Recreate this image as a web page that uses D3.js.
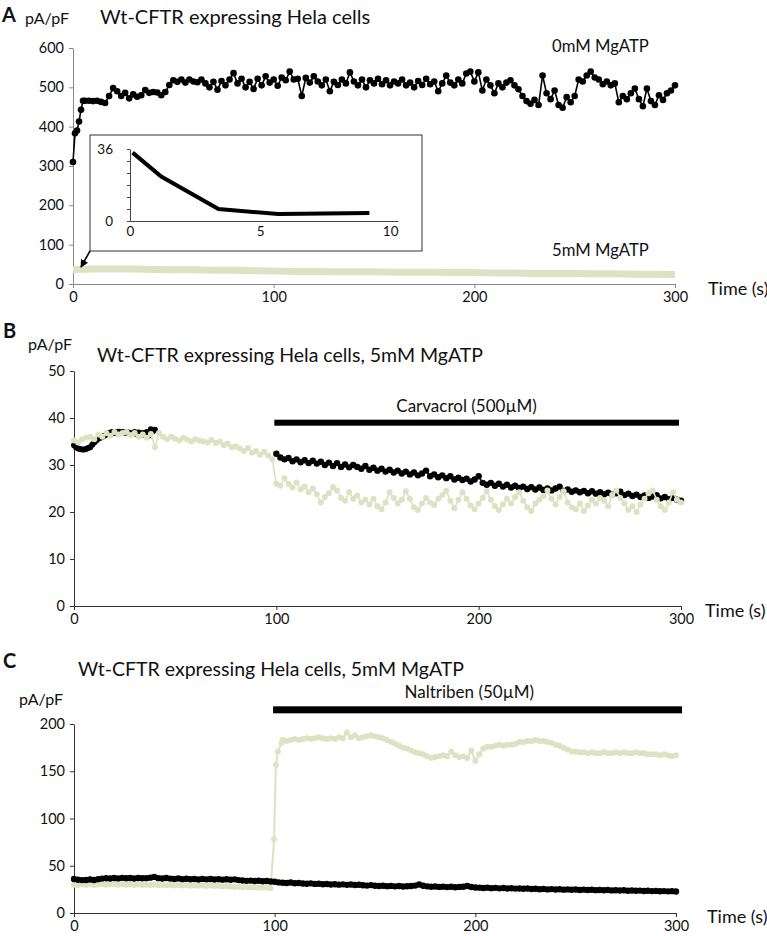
<!DOCTYPE html>
<html><head><meta charset="utf-8">
<script src="https://cdn.jsdelivr.net/npm/d3@7"></script>
<style>body{margin:0;background:#fff}svg{display:block}text{font-family:Lato,'Open Sans',sans-serif}</style>
</head><body><svg id="c" width="767" height="936"></svg>
<script>
// ---------- DATA ----------
const xTicks = [0, 100, 200, 300];
const yTicksA = [0, 100, 200, 300, 400, 500, 600];
const yTicksB = [0, 10, 20, 30, 40, 50];
const yTicksC = [0, 50, 100, 150, 200];

// Panel A, 0mM MgATP (black)
const aBlackStartT = [0, 1, 2, 3, 4, 5];
const aBlackStartV = [310, 383, 390, 413, 443, 466];
const aBlackV = [ // t = 6 .. 300, every 2 s
466,466,465,466,463,460,478,498,490,478,486,472,482,476,480,493,486,488,487,480,
488,506,518,514,520,512,520,515,513,520,510,500,514,494,516,505,520,536,510,522,
500,514,496,522,505,528,512,520,504,525,518,540,520,522,478,524,512,528,515,505,
520,490,514,506,520,510,538,515,505,520,500,518,510,522,508,518,505,515,510,520,
505,512,500,516,506,522,508,515,490,510,530,512,505,520,510,535,540,515,538,492,
520,505,485,510,500,512,518,505,495,478,465,458,468,455,530,485,470,492,455,448,
475,462,478,520,515,530,540,525,520,508,515,505,510,462,478,470,485,497,470,452,
497,465,455,480,468,485,492,505];
// Panel A, 5mM MgATP (light), t = 0 .. 300 every 10 s
const aLightV = [37,38,38,38,37,36,36,35,35,34,33,32,32,31,31,31,30,30,30,29,29,28,28,27,27,27,26,26,25,25,24];
// Inset
const insetT = [0.1, 1.2, 3.4, 5.7, 9.2];
const insetV = [34.2, 22.2, 6, 3.5, 4];

// Panel B
const bBlack1V = [ // t = 0 .. 40 every 1 s
34.2,33.8,33.5,33.4,33.3,33.3,33.4,33.6,33.8,34.3,34.8,35.2,35.6,35.8,36.0,36.2,36.5,36.8,36.9,37.0,
36.8,37.0,37.1,36.9,37.0,36.8,37.0,36.9,36.7,36.8,37.0,36.6,36.9,36.5,36.8,36.4,37.0,36.3,37.6,37.2,37.5];
const bBlack2V = [ // t = 100 .. 300 every 2 s
32.4,31.6,31.2,31.5,30.8,31.2,30.6,31.0,30.4,30.9,30.3,30.7,30.0,30.5,29.8,30.4,29.6,30.1,29.5,30.0,
29.6,29.2,29.8,29.0,29.4,28.8,29.2,28.6,29.0,28.4,28.8,28.2,28.6,28.0,28.4,27.8,28.2,28.8,27.6,28.0,
27.4,27.8,27.2,27.6,26.9,27.3,26.8,27.1,26.5,26.9,27.6,26.2,25.8,26.2,25.6,26.0,25.4,25.8,25.2,25.6,
25.1,25.4,24.9,25.3,24.8,25.2,24.7,25.0,24.6,25.0,25.4,24.5,24.8,24.3,24.6,24.2,24.5,24.0,24.4,23.9,
24.2,23.8,24.1,23.7,24.0,24.3,23.6,23.9,23.4,23.7,23.2,23.5,23.0,23.3,23.6,22.9,23.2,22.7,23.0,22.6,22.4];
const bLight1V = [ // t = 0 .. 98 every 2 s
35.2,34.8,35.5,35.8,36.0,35.5,36.5,36.0,36.8,36.2,37.0,36.5,36.8,37.0,36.4,36.8,36.0,36.5,35.8,36.6,
33.8,36.8,36.0,35.5,36.0,35.6,35.2,35.8,35.4,35.0,35.5,35.2,35.0,34.8,35.3,34.7,35.0,34.2,34.6,33.8,
34.0,33.5,33.0,33.6,32.6,33.0,32.2,32.8,32.0,31.2];
const bLight2V = [ // t = 100 .. 300 every 2 s
26.0,25.6,27.2,26.0,25.2,26.3,24.8,25.4,24.2,25.0,23.8,22.0,23.2,24.0,25.3,24.6,23.0,22.4,24.2,22.8,
23.5,22.0,22.6,21.6,22.8,21.2,20.6,22.0,24.2,23.0,21.8,22.6,24.4,22.8,21.0,20.4,21.8,23.0,22.0,21.5,
22.8,23.6,24.5,22.4,20.8,22.6,24.2,22.8,21.4,20.6,21.8,23.0,24.4,22.6,21.2,20.4,21.6,22.8,21.8,23.2,
24.2,22.4,21.0,20.2,21.8,22.6,23.4,24.6,22.8,21.6,23.2,24.4,22.0,21.0,20.6,21.8,20.2,21.4,22.6,21.8,
23.0,22.4,21.2,23.6,24.6,23.0,21.8,20.4,21.2,20.0,21.6,22.8,24.0,24.6,22.6,21.2,20.4,22.0,24.2,22.6,22.0];
const bTreat = [99, 299], bTreatLevel = 39;

// Panel C
const cBlackV = [ // t = 0 .. 300 every 2 s
36.0,35.2,34.8,35.0,35.4,35.0,35.8,36.4,36.8,36.5,37.0,36.6,37.2,36.8,37.0,36.5,37.1,36.7,36.9,37.4,
38.2,36.9,36.5,37.0,36.4,36.0,36.6,35.8,36.2,35.7,36.0,35.5,36.1,35.6,35.9,35.4,35.8,35.3,35.7,35.2,
35.6,34.8,34.4,34.0,34.3,33.8,34.1,33.6,33.9,33.4,33.0,32.4,32.0,31.8,32.2,31.5,31.8,31.2,31.0,31.4,
30.8,31.0,30.4,30.7,30.2,30.5,30.0,30.3,29.8,30.1,29.6,29.9,29.4,29.0,29.5,28.8,28.6,28.9,28.4,28.7,
28.2,28.5,28.0,28.3,28.6,29.0,30.2,28.8,28.2,27.8,28.0,27.6,27.9,27.4,27.7,27.3,27.6,27.8,28.6,27.5,
27.0,26.8,26.5,26.8,26.3,26.6,26.1,26.4,25.9,26.2,25.8,26.0,25.6,25.9,25.4,25.7,25.2,25.5,25.0,25.3,
24.9,25.2,24.7,25.0,24.6,24.8,24.4,24.7,24.3,24.6,24.2,24.4,24.0,24.3,23.9,24.1,23.8,24.0,23.6,23.8,
23.5,23.7,23.3,23.5,23.2,23.4,23.0,23.2,22.9,23.1,22.8];
const cLight1V = [ // t = 0 .. 98 every 2 s
30.0,29.5,30.2,29.8,30.4,29.6,30.1,30.5,29.8,30.3,30.6,30.0,30.4,29.9,30.2,29.7,30.1,29.6,30.0,29.5,
29.9,29.4,29.8,29.3,29.6,29.2,29.5,29.0,29.4,28.9,29.2,28.8,29.1,28.6,29.0,28.5,28.8,28.4,28.6,28.0,
27.6,27.9,27.3,27.6,27.0,27.3,26.8,27.1,26.6,26.4];
const cJumpT = [99.7, 100.6, 101.6, 103.5];
const cJumpV = [78, 157, 171, 180];
const cLight2V = [ // t = 104 .. 300 every 2 s
183,182,183,184,183,184,185,184,185,186,185,184,185,184,186,185,191,186,188,185,
186,187,188,187,186,185,183,181,179,177,175,174,172,170,169,168,166,164,165,166,
167,166,171,167,165,166,164,172,161,168,174,176,176,177,178,177,178,178,179,181,
181,182,182,183,182,182,181,180,178,177,175,173,171,171,170,170,169,170,169,169,
170,169,169,170,169,170,169,169,170,169,169,168,168,168,167,168,167,166,167];
const cTreat = [99.2, 303], cTreatLevel = 215;

// ---------- HELPERS ----------
const BLACK = '#000', LIGHT = '#dde2c3';
const seg = (t0, step, vals) => vals.map((v, i) => [t0 + i * step, v]);
const svg = d3.select('#c');
svg.append('rect').attr('width', 767).attr('height', 936).attr('fill', '#fff');

function drawSeries(g, x, y, data, color, r, lw) {
  g.append('path').datum(data).attr('fill', 'none').attr('stroke', color).attr('stroke-width', lw)
    .attr('stroke-linejoin', 'round').attr('d', d3.line().x(d => x(d[0])).y(d => y(d[1])));
  if (r > 0) g.append('g').selectAll('circle').data(data).join('circle')
    .attr('cx', d => x(d[0])).attr('cy', d => y(d[1])).attr('r', r).attr('fill', color);
}
function axes(x, y, yt, axisColor) {
  const gy = svg.append('g').attr('transform', `translate(${x(0)},0)`)
    .call(d3.axisLeft(y).tickValues(yt).tickSize(4).tickSizeOuter(0).tickPadding(5));
  const gx = svg.append('g').attr('transform', `translate(0,${y(0)})`)
    .call(d3.axisBottom(x).tickValues(xTicks).tickSize(4).tickSizeOuter(0).tickPadding(4));
  [gy, gx].forEach(g => {
    g.selectAll('path,line').attr('stroke', axisColor);
    g.selectAll('text').attr('font-size', 14.5).attr('fill', '#111').attr('font-family', 'Lato');
  });
}
function txt(x, y, s, size, opts = {}) {
  const t = svg.append('text').attr('x', x).attr('y', y).text(s).attr('font-size', size).attr('fill', '#111');
  if (opts.bold) t.attr('font-weight', 'bold').attr('font-family', 'Liberation Sans, Arial, sans-serif');
  if (opts.anchor) t.attr('text-anchor', opts.anchor);
  return t;
}

// ---------- PANEL A ----------
const xA = d3.scaleLinear().domain([0, 300]).range([73, 675]);
const yA = d3.scaleLinear().domain([0, 600]).range([284, 48]);
axes(xA, yA, yTicksA, '#8a8a8a');
const gA = svg.append('g');
drawSeries(gA, xA, yA, seg(0, 10, aLightV), LIGHT, 0, 7);
const aBlack = aBlackStartT.map((t, i) => [t, aBlackStartV[i]]).concat(seg(6, 2, aBlackV));
drawSeries(gA, xA, yA, aBlack, BLACK, 3.3, 1.6);
txt(2, 22, 'A', 20, {bold: true});
txt(25, 24, 'pA/pF', 16);
txt(100, 24, 'Wt-CFTR expressing Hela cells', 20);
txt(552, 52, '0mM MgATP', 16.7);
txt(552, 256, '5mM MgATP', 16.7);
txt(708, 295, 'Time (s)', 18);

// inset
svg.append('rect').attr('x', 90).attr('y', 135).attr('width', 332).attr('height', 116)
  .attr('fill', '#fff').attr('stroke', '#333').attr('stroke-width', 1);
svg.append('defs').append('marker').attr('id', 'ah').attr('viewBox', '0 0 10 10')
  .attr('refX', 9).attr('refY', 5).attr('markerWidth', 5).attr('markerHeight', 5).attr('orient', 'auto')
  .append('path').attr('d', 'M0,0L10,5L0,10Z').attr('fill', '#000');
svg.append('line').attr('x1', 90).attr('y1', 251).attr('x2', 81).attr('y2', 267)
  .attr('stroke', '#000').attr('stroke-width', 1.6).attr('marker-end', 'url(#ah)');
const xI = d3.scaleLinear().domain([0, 10.3]).range([130, 398]);
const yI = d3.scaleLinear().domain([0, 36]).range([221, 149]);
const gIy = svg.append('g').attr('transform', `translate(${xI(0)},0)`)
  .call(d3.axisLeft(yI).tickValues([0, 6, 12, 18, 24, 30, 36]).tickSize(3).tickSizeOuter(0).tickPadding(14)
    .tickFormat(d => (d === 0 || d === 36) ? d : ''));
const gIx = svg.append('g').attr('transform', `translate(0,${yI(0)})`)
  .call(d3.axisBottom(xI).tickValues([0, 5, 10]).tickSize(0).tickSizeOuter(0).tickPadding(5));
[gIy, gIx].forEach(g => {
  g.selectAll('path,line').attr('stroke', '#444');
  g.selectAll('text').attr('font-size', 13.5).attr('fill', '#111').attr('font-family', 'Lato');
});
svg.append('path').datum(insetT.map((t, i) => [t, insetV[i]])).attr('fill', 'none').attr('stroke', '#000')
  .attr('stroke-width', 4).attr('d', d3.line().x(d => xI(d[0])).y(d => yI(d[1])));

// ---------- PANEL B ----------
const xB = d3.scaleLinear().domain([0, 300]).range([74, 681]);
const yB = d3.scaleLinear().domain([0, 50]).range([606, 371]);
axes(xB, yB, yTicksB, '#333');
const gB = svg.append('g');
drawSeries(gB, xB, yB, seg(0, 1, bBlack1V), BLACK, 3, 1.4);
drawSeries(gB, xB, yB, seg(100, 2, bBlack2V), BLACK, 3.2, 1.4);
drawSeries(gB, xB, yB, seg(0, 2, bLight1V).concat(seg(100, 2, bLight2V)), LIGHT, 3, 1.6);
svg.append('rect').attr('x', xB(bTreat[0])).attr('y', yB(bTreatLevel) - 3)
  .attr('width', xB(bTreat[1]) - xB(bTreat[0])).attr('height', 6).attr('fill', '#000');
txt(xB(194), yB(bTreatLevel) - 11, 'Carvacrol (500µM)', 17, {anchor: 'middle'});
txt(3, 338, 'B', 20, {bold: true});
txt(28, 350, 'pA/pF', 16);
txt(97, 362, 'Wt-CFTR expressing Hela cells, 5mM MgATP', 19.5);
txt(705, 617, 'Time (s)', 18);

// ---------- PANEL C ----------
const xC = d3.scaleLinear().domain([0, 300]).range([74, 676]);
const yC = d3.scaleLinear().domain([0, 200]).range([913, 724]);
axes(xC, yC, yTicksC, '#333');
const gC = svg.append('g');
const cLight = seg(0, 2, cLight1V).concat(cJumpT.map((t, i) => [t, cJumpV[i]])).concat(seg(104, 2, cLight2V));
drawSeries(gC, xC, yC, cLight, LIGHT, 3, 2);
drawSeries(gC, xC, yC, seg(0, 2, cBlackV), BLACK, 3.2, 1.6);
svg.append('rect').attr('x', xC(cTreat[0])).attr('y', yC(cTreatLevel) - 3.5)
  .attr('width', xC(cTreat[1]) - xC(cTreat[0])).attr('height', 7).attr('fill', '#000');
txt(xC(197), yC(cTreatLevel) - 12, 'Naltriben (50µM)', 17, {anchor: 'middle'});
txt(3, 668, 'C', 20, {bold: true});
txt(19, 705, 'pA/pF', 16);
txt(78, 676, 'Wt-CFTR expressing Hela cells, 5mM MgATP', 19.5);
txt(707, 923, 'Time (s)', 18);
</script></body></html>
